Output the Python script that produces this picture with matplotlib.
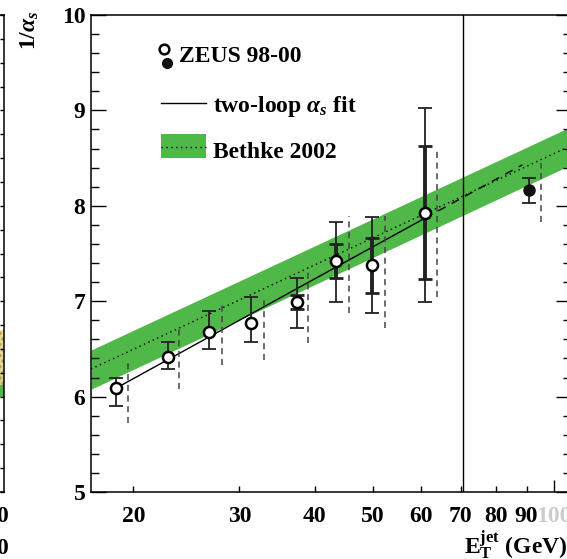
import numpy as np
import matplotlib.pyplot as plt
from matplotlib.lines import Line2D
from matplotlib.patches import Rectangle
from matplotlib.ticker import FixedLocator, NullFormatter, FixedFormatter

plt.rcParams['font.family'] = ['Liberation Serif', 'DejaVu Serif']
plt.rcParams['font.weight'] = 'bold'
plt.rcParams['mathtext.fontset'] = 'custom'
plt.rcParams['mathtext.rm'] = 'Liberation Serif:bold'
plt.rcParams['mathtext.bf'] = 'Liberation Serif:bold'
plt.rcParams['mathtext.it'] = 'Liberation Serif:italic:bold'
plt.rcParams['hatch.linewidth'] = 1.5

FS = 17

# ZEUS 98-00 points (open), 1/alpha_s vs E_T^jet
et = [18.73, 22.81, 26.67, 31.34, 37.39, 43.48, 49.8, 61.0]
val = [6.087, 6.418, 6.68, 6.768, 6.994, 7.425, 7.379, 7.921]
tot_up = [6.198, 6.575, 6.90, 7.04, 7.24, 7.833, 7.886, 9.022]
tot_dn = [5.905, 6.287, 6.499, 6.569, 6.72, 6.995, 6.879, 6.988]
in_up = [np.nan, np.nan, np.nan, np.nan, 7.07, 7.60, 7.666, 8.63]
in_dn = [np.nan, np.nan, np.nan, np.nan, 6.918, 7.24, 7.089, 7.23]
# theory uncertainty (dashed bars, drawn offset)
th_et = [19.57, 23.8, 28.07, 32.96, 39.0, 45.7, 52.4, 64.0]
th_up = [6.373, 6.726, 6.97, 7.058, 7.362, 7.893, 7.893, 8.578]
th_dn = [5.723, 6.077, 6.33, 6.384, 6.56, 6.879, 6.722, 7.047]

# filled point
et_f = [90.8]
val_f = [8.166]
up_f = [8.288]
dn_f = [8.026]
th_et_f = [95.0]
th_up_f = [8.452]
th_dn_f = [7.833]

# two-loop fit
fit_et = [18.73, 61.0]
fit_val = [6.09, 7.87]
fit_ext_et = [61.0, 88.6]
fit_ext_val = [7.87, 8.43]

# Bethke 2002 band
bethke_et = [17.0, 106.7]
bethke_lo = [6.077, 8.43]
bethke_hi = [6.488, 8.83]
bethke_c = [6.289, 8.63]

xticks = [20, 30, 40, 50, 60, 70, 80, 90]
vline_et = 70.6

W, H = 567, 559
fig = plt.figure(figsize=(W / 100, H / 100), dpi=100)

def fx(px):
    return px / W

def fy(py):
    return 1 - py / H

# partial left panel
axl = fig.add_axes([-0.5, fy(492), 0.5 + fx(4), fy(15) - fy(492)])
axl.set_ylim(5, 10)
axl.set_xlim(0, 1)
axl.fill_between([0, 1], 6.0, 6.26, color='#50b848', lw=0)
axl.fill_between([0, 1], 6.12, 6.70, facecolor='#e6d590', edgecolor='#b39a3c',
                 hatch='...', lw=0, alpha=0.9)
axl.yaxis.set_major_locator(FixedLocator(np.arange(5, 10.01, 0.25)))
axl.tick_params(axis='y', left=False, right=True, labelleft=False, direction='in', length=3, width=1)
axl.tick_params(axis='x', bottom=False, labelbottom=False)
for s in axl.spines.values():
    s.set_linewidth(1.1)
fig.text(fx(2), fy(516), '0', ha='center', va='center', fontsize=FS, fontweight='bold')
fig.text(fx(2), fy(548), '0', ha='center', va='center', fontsize=FS, fontweight='bold')

# main panel
ax = fig.add_axes([fx(91), fy(492), fx(571) - fx(91), fy(15) - fy(492)])
ax.set_xscale('log')
ax.set_xlim(17.0, 106.7)
ax.set_ylim(5, 10)

ax.fill_between(bethke_et, bethke_lo, bethke_hi, color='#50b848', lw=0, zorder=1)
ax.plot(bethke_et, bethke_c, color='black', ls=(0, (1, 2.5)), lw=1, zorder=2)

ax.plot(fit_et, fit_val, color='black', lw=1, zorder=3)
ax.plot(fit_ext_et, fit_ext_val, color='black', lw=1, ls=(0, (6, 5)), zorder=3)

ax.axvline(vline_et, color='black', lw=1, zorder=3)

# dashed theory bars
ax.vlines(th_et + th_et_f, th_dn + th_dn_f, th_up + th_up_f, colors='#444444',
          linestyles=(0, (4, 3)), lw=1.1, zorder=4)

# total errors (thin with caps)
val_a = np.array(val)
ax.errorbar(et, val, yerr=[val_a - np.array(tot_dn), np.array(tot_up) - val_a],
            fmt='none', ecolor='#222222', elinewidth=1.3, capsize=5, capthick=1.3, zorder=5)
# inner errors (thick)
mask = ~np.isnan(np.array(in_up))
et_in = np.array(et)[mask]
v_in = val_a[mask]
ax.errorbar(et_in, v_in, yerr=[v_in - np.array(in_dn)[mask], np.array(in_up)[mask] - v_in],
            fmt='none', ecolor='#222222', elinewidth=2.8, capsize=5, capthick=2.0, zorder=5)
ax.errorbar(et_f, val_f, yerr=[np.array(val_f) - np.array(dn_f), np.array(up_f) - np.array(val_f)],
            fmt='none', ecolor='#222222', elinewidth=1.3, capsize=5, capthick=1.3, zorder=5)

ax.plot(et, val, 'o', ms=8, mfc='white', mec='black', mew=1.8, zorder=6)
ax.plot(et_f, val_f, 'o', ms=8, mfc='#111111', mec='#111111', zorder=6)

# ticks
ax.xaxis.set_major_locator(FixedLocator(xticks))
ax.xaxis.set_major_formatter(FixedFormatter([str(t) for t in xticks]))
ax.xaxis.set_minor_locator(FixedLocator([100]))
ax.xaxis.set_minor_formatter(FixedFormatter(['100']))
ax.tick_params(axis='x', which='major', direction='in', length=4.3, width=1,
               top=False, pad=10, labelsize=FS)
ax.tick_params(axis='x', which='minor', direction='in', length=8.6, width=1,
               top=False, pad=10, labelsize=FS, labelcolor='#cccccc')
ax.yaxis.set_major_locator(FixedLocator([5, 6, 7, 8, 9, 10]))
ax.yaxis.set_minor_locator(FixedLocator(np.arange(5, 10.01, 0.2)))
ax.yaxis.set_minor_formatter(NullFormatter())
ax.tick_params(axis='y', which='major', direction='in', length=10.8, width=1,
               right=True, pad=4, labelsize=FS)
ax.tick_params(axis='y', which='minor', direction='in', length=5.8, width=1, right=True)
for lab in ax.get_xticklabels(which='both') + ax.get_yticklabels():
    lab.set_fontweight('bold')
for s in ax.spines.values():
    s.set_linewidth(1.1)

# axis titles
fig.text(fx(30), fy(30), r'1/$\alpha_s$', rotation=90, ha='center', va='center', fontsize=FS)
fig.text(fx(567), fy(554), r'$\mathbf{E_T^{jet}}$ (GeV)', ha='right', va='baseline', fontsize=FS)

# legend
fig.add_artist(Line2D([fx(164.3)], [fy(49)], marker='o', ms=7, mfc='white', mec='black',
                      mew=1.8, ls='none'))
fig.add_artist(Line2D([fx(166.7)], [fy(63.3)], marker='o', ms=7, mfc='#111111',
                      mec='#111111', ls='none'))
fig.text(fx(179.3), fy(62.3), 'ZEUS 98-00', ha='left', va='baseline', fontsize=FS)
fig.add_artist(Line2D([fx(161), fx(206)], [fy(102.7), fy(102.7)], color='black', lw=1))
fig.text(fx(213.3), fy(111.7), r'two-loop $\alpha_s$ fit', ha='left', va='baseline', fontsize=FS)
fig.add_artist(Rectangle((fx(161), fy(158)), fx(206) - fx(161), fy(134) - fy(158),
                         transform=fig.transFigure, color='#50b848', lw=0))
fig.add_artist(Line2D([fx(161), fx(206)], [fy(146.7), fy(146.7)], color='black', lw=1,
                      ls=(0, (1, 2.5))))
fig.text(fx(213.3), fy(158.3), 'Bethke 2002', ha='left', va='baseline', fontsize=FS)

fig.savefig('out.png', dpi=100)
